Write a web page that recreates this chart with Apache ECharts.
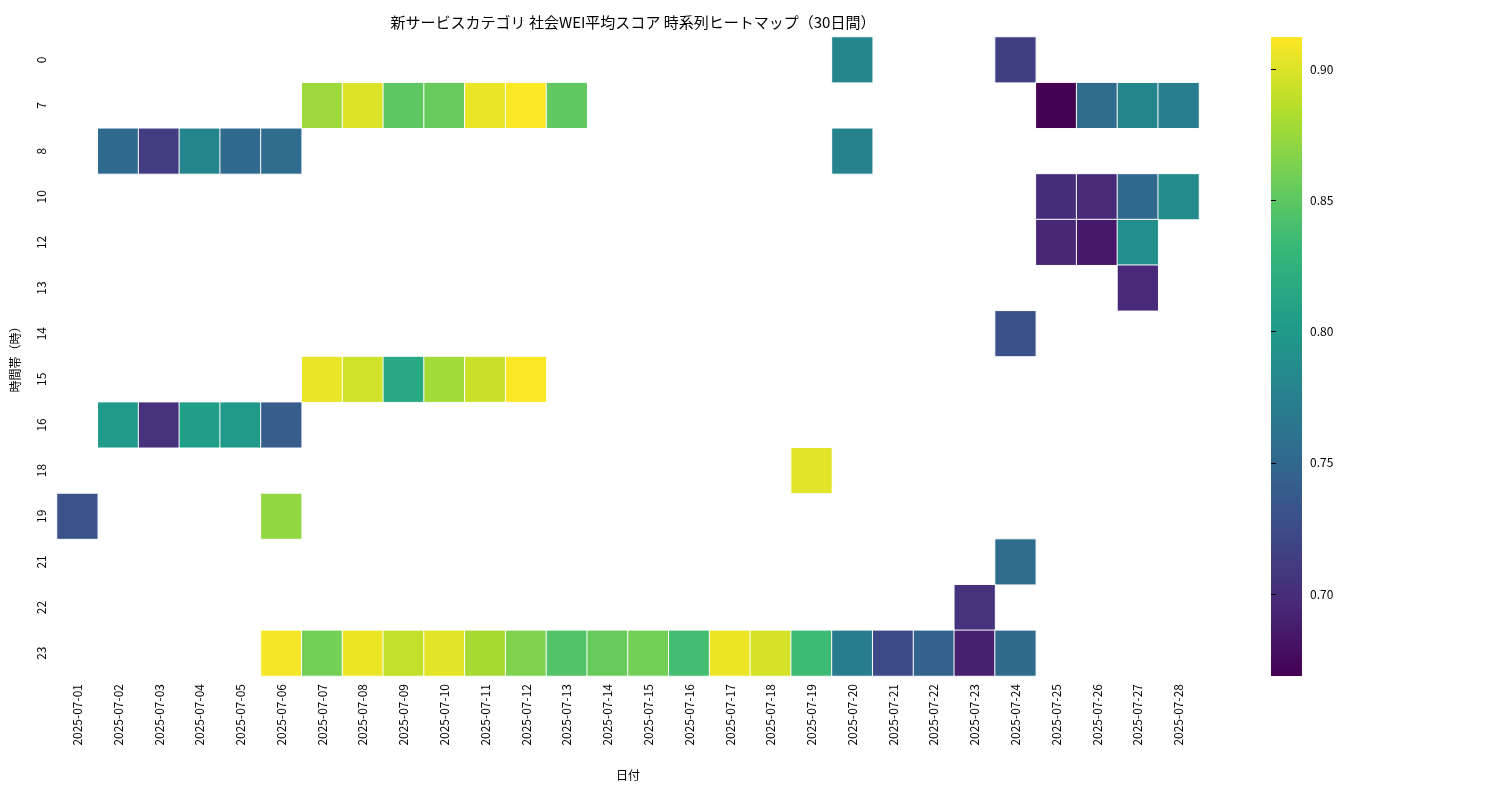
<!DOCTYPE html>
<html><head><meta charset="utf-8">
<script src="https://cdn.jsdelivr.net/npm/echarts@6/dist/echarts.min.js"></script>
<style>html,body{margin:0;background:#fff}#c{width:1500px;height:800px}</style>
</head><body><div id="c"></div>
<script>
const dates = [];
for (let d = 1; d <= 28; d++) dates.push('2025-07-' + String(d).padStart(2, '0'));
const hours = ['0','7','8','10','12','13','14','15','16','18','19','21','22','23'];
// [date index (1-based day), hour, value]
const row0  = [[20,0.780],[24,0.715]];
const row7  = [[7,0.876],[8,0.900],[9,0.850],[10,0.855],[11,0.905],[12,0.912],[13,0.852],[25,0.669],[26,0.755],[27,0.780],[28,0.772]];
const row8  = [[2,0.752],[3,0.712],[4,0.780],[5,0.752],[6,0.754],[20,0.778]];
const row10 = [[25,0.700],[26,0.698],[27,0.750],[28,0.786]];
const row12 = [[25,0.695],[26,0.685],[27,0.790]];
const row13 = [[27,0.697]];
const row14 = [[24,0.730]];
const row15 = [[7,0.905],[8,0.895],[9,0.815],[10,0.878],[11,0.893],[12,0.912]];
const row16 = [[2,0.800],[3,0.703],[4,0.805],[5,0.800],[6,0.740]];
const row18 = [[19,0.902]];
const row19 = [[1,0.732],[6,0.872]];
const row21 = [[24,0.755]];
const row22 = [[23,0.705]];
const row23 = [[6,0.908],[7,0.860],[8,0.906],[9,0.890],[10,0.902],[11,0.880],[12,0.865],[13,0.845],[14,0.855],[15,0.860],[16,0.838],[17,0.906],[18,0.897],[19,0.835],[20,0.770],[21,0.725],[22,0.745],[23,0.690],[24,0.753]];
const rows = {'0':row0,'7':row7,'8':row8,'10':row10,'12':row12,'13':row13,'14':row14,'15':row15,'16':row16,'18':row18,'19':row19,'21':row21,'22':row22,'23':row23};
const cbTicks = [0.70,0.75,0.80,0.85,0.90];
const vmin = 0.6688, vmax = 0.9122;
const viridis = ['#440154','#482878','#3e4989','#31688e','#26828e','#1f9e89','#35b779','#6ece58','#b5de2b','#fde725'];

const data = [];
hours.forEach((h, hi) => rows[h].forEach(([d, v]) => data.push([d - 1, hi, v])));

const font = 'Noto Sans CJK JP';
const chart = echarts.init(document.getElementById('c'));
chart.setOption({
  textStyle: {fontFamily: font},
  animation: false,
  title: {text: '新サービスカテゴリ 社会WEI平均スコア 時系列ヒートマップ（30日間）', left: 628, top: 10, textAlign: 'center',
    textStyle: {fontSize: 15, fontWeight: 'normal', color: '#000', fontFamily: font}},
  grid: [{left: 57, top: 37, width: 1142, height: 639},
         {left: 1271, top: 37, width: 31, height: 639}],
  xAxis: [{type: 'category', data: dates, gridIndex: 0, name: '日付', nameLocation: 'middle', nameGap: 93,
      nameTextStyle: {fontSize: 12, color: '#000'},
      axisLine: {show: false}, axisTick: {length: 5, lineStyle: {color: '#000'}, alignWithLabel: true}, splitLine: {show: false},
      axisLabel: {rotate: 90, interval: 0, fontSize: 12, color: '#000', margin: 8}},
    {type: 'value', gridIndex: 1, show: false, min: 0, max: 1}],
  yAxis: [{type: 'category', data: hours, inverse: true, gridIndex: 0, name: '時間帯（時）', nameLocation: 'middle', nameGap: 36,
      nameTextStyle: {fontSize: 12, color: '#000'},
      axisLine: {show: false}, axisTick: {length: 5, lineStyle: {color: '#000'}, alignWithLabel: true}, splitLine: {show: false},
      axisLabel: {rotate: 90, fontSize: 12, color: '#000', margin: 10}},
    {type: 'value', gridIndex: 1, position: 'right', min: vmin, max: vmax,
      axisLine: {show: false}, splitLine: {show: false},
      axisTick: {show: true, length: 5, customValues: cbTicks, lineStyle: {color: '#000'}},
      axisLabel: {customValues: cbTicks, formatter: v => v.toFixed(2), fontSize: 12, color: '#000', margin: 8}}],
  visualMap: {show: false, min: vmin, max: vmax, dimension: 2, seriesIndex: 0, inRange: {color: viridis}},
  series: [{type: 'heatmap', data: data, xAxisIndex: 0, yAxisIndex: 0,
    itemStyle: {borderColor: '#fff', borderWidth: 1}}],
  graphic: [{type: 'rect', shape: {x: 1271, y: 37, width: 31, height: 639},
    style: {fill: new echarts.graphic.LinearGradient(0, 1, 0, 0,
      viridis.map((c, i) => ({offset: i / (viridis.length - 1), color: c})))}}]
});
</script></body></html>
